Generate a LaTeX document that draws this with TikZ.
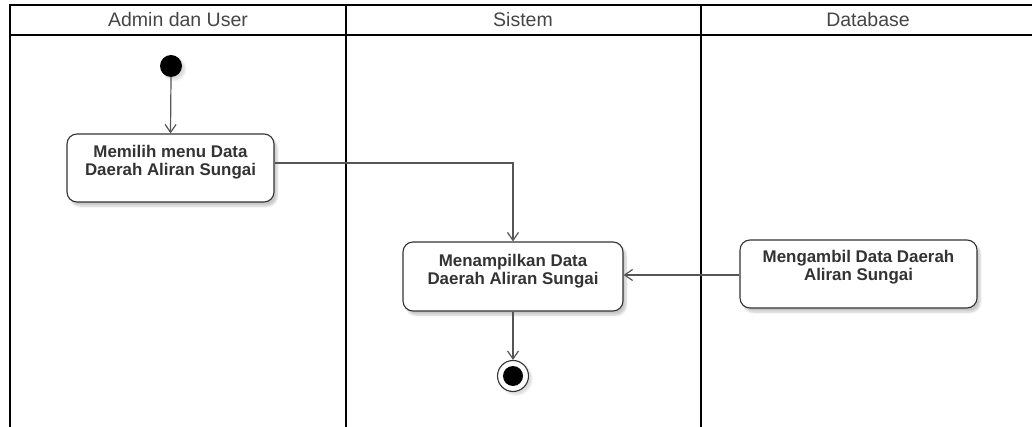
\documentclass[tikz,border=0pt]{standalone}
\usepackage{fontspec}
\setmainfont{Liberation Sans}
\usetikzlibrary{arrows.meta,shadows.blur}
\definecolor{ink}{HTML}{333333}
\definecolor{wire}{HTML}{555555}
\definecolor{headtxt}{HTML}{454545}
\begin{document}
\begin{tikzpicture}[x=1pt,y=-1pt,
  lane/.style={line width=2.8pt,black},
  lanehead/.style={font=\fontsize{19.5}{21}\selectfont,text=headtxt,inner sep=0pt},
  actbox/.style={draw=ink,line width=1.1pt,rounded corners=10pt,fill=white,
    inner sep=0pt,
    blur shadow={shadow xshift=3pt,shadow yshift=-4pt,shadow blur steps=6,shadow opacity=22}},
  acttext/.style={font=\fontsize{16.9}{17.5}\selectfont\bfseries,text=ink,
    align=center,anchor=north,inner sep=0pt},
  flow/.style={draw=wire,line width=1.2pt,-{Straight Barb[length=8pt,width=11pt,line width=1.2pt]}},
  startdot/.style={circle,fill=black,minimum size=22pt,inner sep=0pt,
    blur shadow={shadow xshift=3pt,shadow yshift=-3pt,shadow blur steps=5,shadow opacity=15}},
  endring/.style={circle,draw=ink,fill=white,line width=1.1pt,minimum size=31pt,inner sep=0pt,
    blur shadow={shadow xshift=3pt,shadow yshift=-3pt,shadow blur steps=5,shadow opacity=15}},
  enddot/.style={circle,fill=black,minimum size=20pt,inner sep=0pt}]
\useasboundingbox (0,0) rectangle (1032,427);

% swimlane frame
\draw[lane] (10,427) -- (10,5) -- (1032,5);
\draw[lane] (10,35) -- (1032,35);
\draw[lane] (346,5) -- (346,427);
\draw[lane] (701,5) -- (701,427);

% lane titles
\node[lanehead] (hAdmin) at (178,20) {Admin dan User};
\node[lanehead] (hSistem) at (523,20) {Sistem};
\node[lanehead] (hDb) at (868,20) {Database};

% activities
\node[actbox,minimum width=207pt,minimum height=68pt] (pilih) at (170.5,168) {};
\node[acttext] (pilihT) at ([yshift=-12pt]pilih.north) {Memilih menu Data\\Daerah Aliran Sungai};

\node[actbox,minimum width=220pt,minimum height=69pt] (tampil) at (513,276.5) {};
\node[acttext] (tampilT) at ([yshift=-13pt]tampil.north) {Menampilkan Data\\Daerah Aliran Sungai};

\node[actbox,minimum width=237pt,minimum height=68pt] (ambil) at (858.5,274) {};
\node[acttext] (ambilT) at ([yshift=-11pt]ambil.north) {Mengambil Data Daerah\\Aliran Sungai};

% start and end
\node[startdot] (mulai) at (171,66) {};
\node[endring] (akhir) at (513,376) {};
\node[enddot] (akhirDot) at (akhir.center) {};

% flows
\draw[flow] (mulai.south) -- (pilih.north);
\draw[flow] (pilih.east |- 0,163) -| (tampil.north);
\draw[flow] (ambil.west |- 0,275) -- (tampil.east |- 0,275);
\draw[flow] (tampil.south) -- (akhir.north);
\end{tikzpicture}
\end{document}
